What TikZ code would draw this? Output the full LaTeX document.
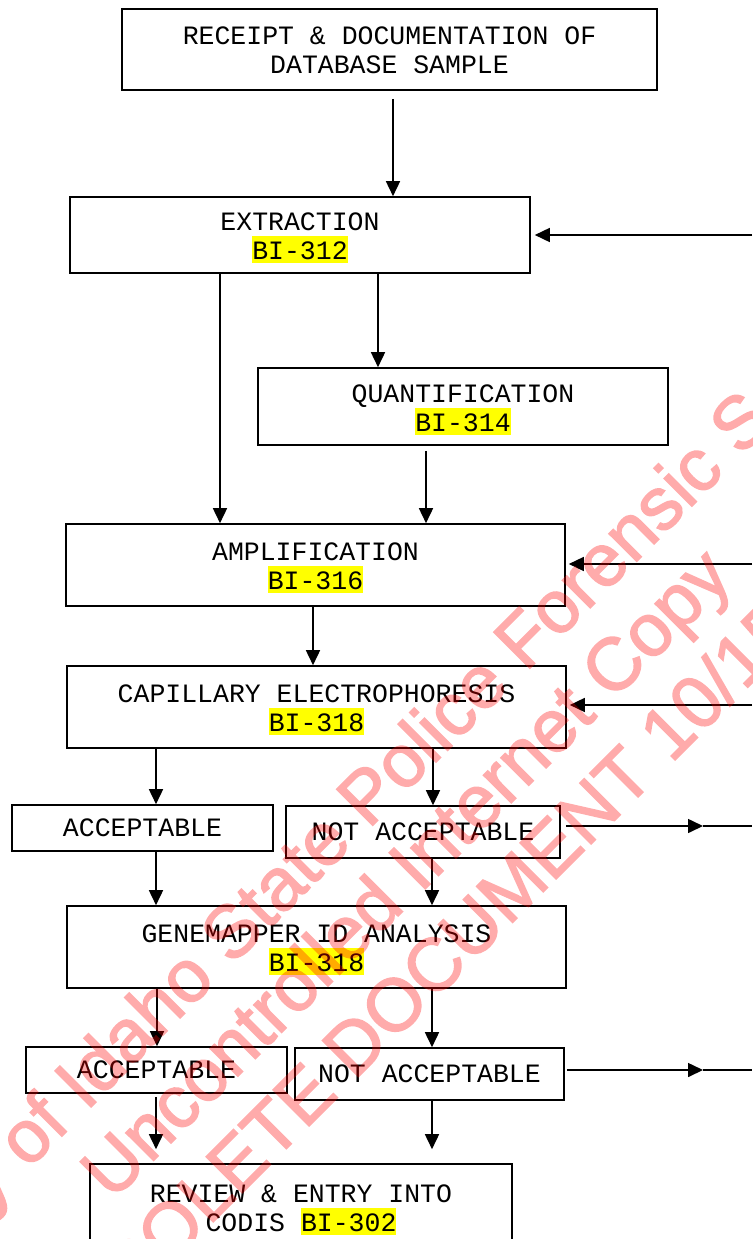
\documentclass[tikz,border=0pt]{standalone}
\usepackage{fontspec}
\setmonofont{Liberation Mono}
\newfontfamily\wmfont[FakeBold=2]{Liberation Sans}
\usetikzlibrary{arrows.meta}

\definecolor{hlyellow}{RGB}{255,255,0}
\newcommand{\ls}{\rule[-3.5pt]{0pt}{27pt}}
\newcommand{\hl}[1]{{\setlength{\fboxsep}{0pt}\colorbox{hlyellow}{\ls#1}}}

\tikzset{
  blk/.style={draw, line width=1.6pt, inner sep=0pt, align=center,
     font=\ttfamily\fontsize{26.5}{29}\selectfont},
  flowarr/.style={line width=1.6pt, -{Triangle[length=15pt,width=14pt]}},
  wmark/.style={font=\wmfont\fontsize{74}{74}\selectfont, text=red,
     rotate=45, anchor=base west, inner sep=0pt}
}

\begin{document}
\begin{tikzpicture}[x=1pt, y=-1pt]

  \useasboundingbox (0,0) rectangle (752,1239);
  \clip (0,0) rectangle (752,1239);

	%boxes
    \foreach \px/\py/\bw/\bh/\name/\txt in {
        389.5/49.5/535/81/receipt/{\ls RECEIPT \& DOCUMENTATION OF\\\ls DATABASE SAMPLE},
        300/235/460/76/extraction/{\ls EXTRACTION\\\hl{BI-312}},
        463/406.5/410/77/quant/{\ls QUANTIFICATION\\\hl{BI-314}},
        315.5/565/499/82/amp/{\ls AMPLIFICATION\\\hl{BI-316}},
        316.5/707/499/82/cap/{\ls CAPILLARY ELECTROPHORESIS\\\hl{BI-318}},
        142.5/828/261/46/acc1/{ACCEPTABLE},
        423/832/274/52/nacc1/{NOT ACCEPTABLE},
        316.5/947/499/82/gene/{\ls GENEMAPPER ID ANALYSIS\\\hl{BI-318}},
        156.5/1070/261/46/acc2/{ACCEPTABLE},
        429.5/1074/269/52/nacc2/{NOT ACCEPTABLE},
        301/1206.5/422/85/review/{\ls REVIEW \& ENTRY INTO\\\ls CODIS \hl{BI-302}}}{
         \node[blk, minimum width=\bw pt, minimum height=\bh pt] (\name) at (\px,\py) {\txt};
    }

	%loose ends at the right
    \coordinate (inA) at (752,235);
    \coordinate (inB) at (752,564);
    \coordinate (inC) at (752,705);
    \coordinate (tipA) at (703,826);
    \coordinate (outA) at (752,826);
    \coordinate (tipB) at (703,1070);
    \coordinate (outB) at (752,1070);

	%arrows
    \draw[flowarr] ([xshift=3.5pt,yshift=-8pt]receipt.south) -- ([xshift=93pt]extraction.north);
    \draw[flowarr, shorten >=4pt] (inA) -- (extraction.east);
    \draw[flowarr] ([xshift=78pt]extraction.south) -- ([xshift=-85pt]quant.north);
    \draw[flowarr] ([xshift=-80pt]extraction.south) -- ([xshift=-95.5pt]amp.north);
    \draw[flowarr] ([xshift=-37pt,yshift=-5pt]quant.south) -- ([xshift=110.5pt]amp.north);
    \draw[flowarr, shorten >=3pt] (inB) -- ([yshift=1pt]amp.east);
    \draw[flowarr] ([xshift=-2.5pt]amp.south) -- ([xshift=-3.5pt]cap.north);
    \draw[flowarr, shorten >=3pt] (inC) -- ([yshift=2pt]cap.east);

    \draw[flowarr] ([xshift=-160.5pt]cap.south) -- ([xshift=13.5pt]acc1.north);
    \draw[flowarr] ([xshift=116.5pt]cap.south) -- ([xshift=10pt]nacc1.north);
    \draw[flowarr, shorten <=5pt] ([yshift=6pt]nacc1.east) -- (tipA);
    \draw[line width=1.6pt] (tipA) -- (outA);
    \draw[flowarr] ([xshift=13.5pt]acc1.south) -- ([xshift=-160.5pt]gene.north);
    \draw[flowarr] ([xshift=9pt]nacc1.south) -- ([xshift=115.5pt]gene.north);

    \draw[flowarr] ([xshift=-159.5pt]gene.south) -- ([xshift=0.5pt]acc2.north);
    \draw[flowarr] ([xshift=115.5pt]gene.south) -- ([xshift=2.5pt]nacc2.north);
    \draw[flowarr, shorten <=2pt] ([yshift=4pt]nacc2.east) -- (tipB);
    \draw[line width=1.6pt] (tipB) -- (outB);
    \draw[flowarr, shorten >=14pt] ([xshift=-0.5pt,yshift=-3pt]acc2.south) -- ([xshift=-145pt]review.north);
    \draw[flowarr, shorten >=14pt] ([xshift=2.5pt]nacc2.south) -- ([xshift=131pt]review.north);

	%watermark
  \begin{scope}[transparency group, opacity=0.33]
    \node[wmark] (wm1) at (28,1170) {\llap{Property }of Idaho State Police Forensic Services};
    \node[wmark] (wm2) at (112,1202) {Uncontrolled Internet Copy};
    \node[wmark] (wm3) at (168,1267) {\llap{OBS}OLETE DOCUMENT 10/15};
  \end{scope}

\end{tikzpicture}
\end{document}
